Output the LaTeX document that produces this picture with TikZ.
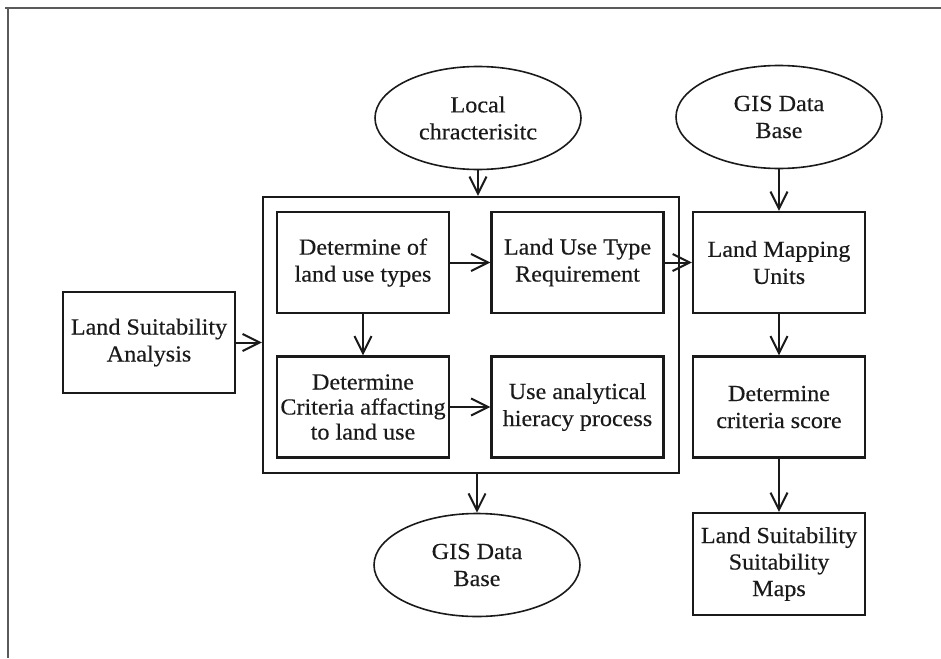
\documentclass[tikz,border=0pt]{standalone}
\usepackage{fontspec}
\setmainfont{Liberation Serif}[FakeStretch=1.05,FakeBold=0.35]
\usetikzlibrary{shapes.geometric,arrows.meta}
\definecolor{ink}{HTML}{1A1A1A}
\definecolor{framec}{HTML}{5A5A5A}
\begin{document}
\begin{tikzpicture}[x=1pt,y=-1pt,
  txt/.style={font=\fontsize{23}{27}\selectfont, text=ink, align=center},
  boxn/.style={txt, draw=ink, line width=2.3pt, rectangle, inner sep=0pt,
    minimum width=172pt, minimum height=101pt},
  ell/.style={txt, draw=ink, line width=1.6pt, ellipse, inner sep=0pt,
    minimum width=206pt, minimum height=103pt},
  outerbox/.style={draw=ink, line width=2.4pt, rectangle, inner sep=0pt,
    minimum width=416pt, minimum height=276pt},
  arr/.style={draw=ink, line width=2pt,
    -{Straight Barb[length=17pt,width=17pt,line width=2pt]}}]
\useasboundingbox (0,0) rectangle (941,658);
\draw[framec, line width=1.5pt] (5,8) -- (941,8);
\draw[framec, line width=1.5pt] (8,8) -- (8,658);

\node[outerbox] (outer) at (471,335) {};
\node[ell] (local) at (478,118) {Local\\chracterisitc};
\node[ell] (gist) at (779,117) {GIS Data\\Base};
\node[ell] (gisb) at (477,565) {GIS Data\\Base};

\node[boxn] (lsa) at (149,342.5) {Land Suitability\\Analysis};
\node[boxn] (a) at (363,262.5) {Determine of\\land use types};
\node[boxn] (b) at (577.5,262.5) {Land Use Type\\Requirement};
\node[boxn, font=\fontsize{23}{25}\selectfont] (c) at (363,407) {Determine\\Criteria affacting\\to land use};
\node[boxn] (d) at (577.5,407) {Use analytical\\hieracy process};
\node[boxn] (lmu) at (779,262.5) {Land Mapping\\Units};
\node[boxn] (cs) at (779,407) {Determine\\criteria score};
\node[boxn, font=\fontsize{23}{26.5}\selectfont, minimum height=102pt] (maps) at (779,564) {Land Suitability\\Suitability\\Maps};

\draw[arr] (local.south) -- (local.south |- outer.north);
\draw[arr] (gist.south) -- (lmu.north);
\draw[arr] (lsa.east) -- (lsa.east -| outer.west);
\draw[arr] (a.east) -- (b.west);
\draw[arr] (c.east) -- (d.west);
\draw[arr] (a.south) -- (c.north);
\draw[arr] (b.east) -- (lmu.west);
\draw[arr] (gisb.north |- outer.south) -- (gisb.north);
\draw[arr] (lmu.south) -- (cs.north);
\draw[arr] (cs.south) -- (maps.north);
\end{tikzpicture}
\end{document}
